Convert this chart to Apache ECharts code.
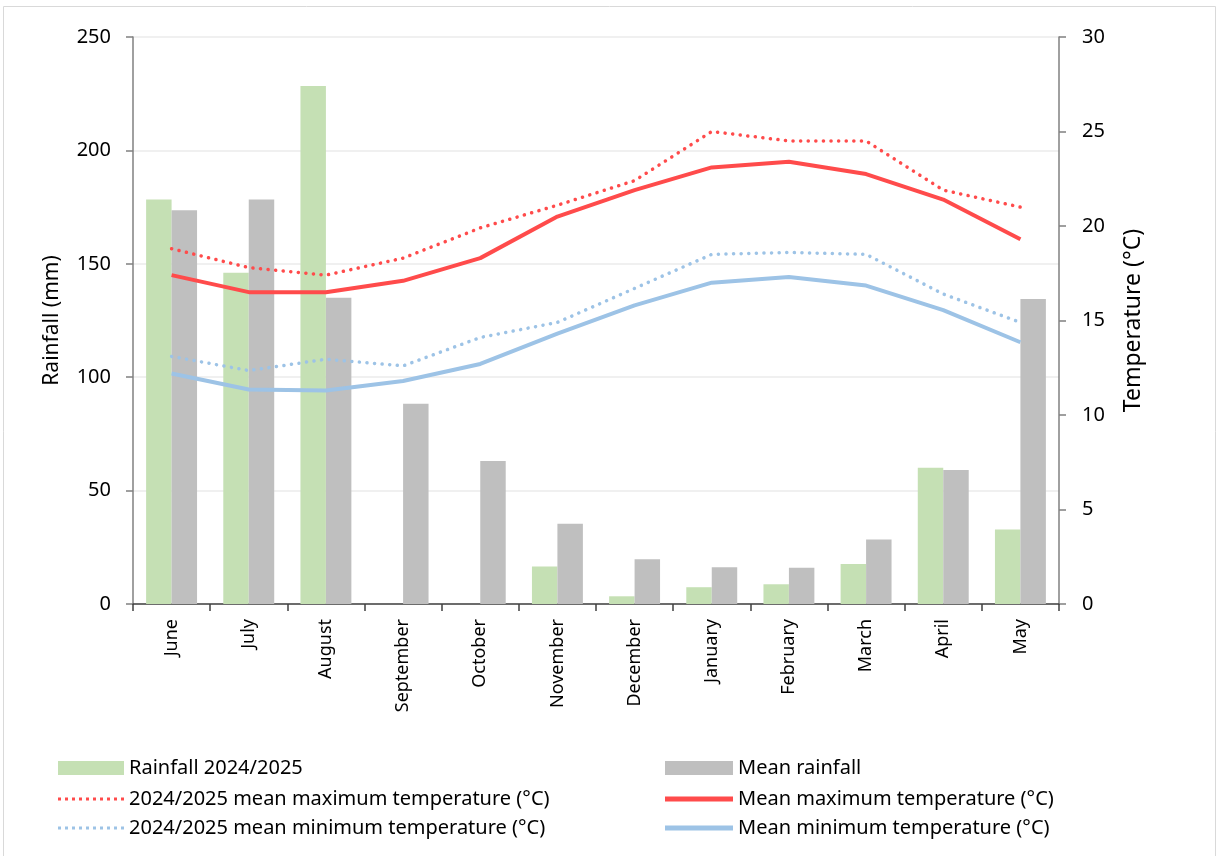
<!DOCTYPE html>
<html><head><meta charset="utf-8">
<script src="https://cdn.jsdelivr.net/npm/echarts@6/dist/echarts.min.js"></script>
<style>html,body{margin:0;padding:0;background:#fff}#c{width:1219px;height:856px}</style>
</head><body><div id="c"></div>
<script>
const months = ['June','July','August','September','October','November','December','January','February','March','April','May'];
const rainfall2425 = [178.4, 146, 228.4, null, null, 16.5, 3.4, 7.4, 8.7, 17.6, 60.1, 32.9];
const meanRainfall = [173.6, 178.3, 135, 88.3, 63, 35.4, 19.7, 16.2, 16.0, 28.4, 59.1, 134.5];
const max2425 = [18.8, 17.8, 17.4, 18.3, 19.9, 21.1, 22.4, 25.0, 24.5, 24.5, 21.9, 21.0];
const meanMax = [17.4, 16.5, 16.5, 17.1, 18.3, 20.5, 21.9, 23.1, 23.4, 22.75, 21.4, 19.3];
const min2425 = [13.1, 12.35, 12.95, 12.6, 14.1, 14.9, 16.7, 18.5, 18.6, 18.5, 16.4, 14.9];
const meanMin = [12.2, 11.35, 11.3, 11.8, 12.7, 14.3, 15.8, 17.0, 17.3, 16.85, 15.55, 13.85];
const leftTicks = {min: 0, max: 250, interval: 50};
const rightTicks = {min: 0, max: 30, interval: 5};

const font = 'Noto Sans';
const RED = '#ff4b4b', BLUE = '#9dc3e6', GREEN = '#c5e0b4', GRAY = '#bfbfbf';
let dots = 'path://';
for (let i = 0; i < 10; i++) dots += 'M' + (i * 7) + ',0h3v3h-3z';

const legText = {fontSize: 20, color: '#000', fontFamily: font};
function leg(name, x, cy, icon, w, h) {
  return {left: x, top: cy - 9, padding: 0, itemWidth: w, itemHeight: h, icon: icon, textStyle: legText,
          data: [name], selectedMode: false};
}
const chart = echarts.init(document.getElementById('c'));
chart.setOption({
  animation: false,
  textStyle: {fontFamily: font},
  graphic: [{type: 'rect', shape: {x: 3.5, y: 6.5, width: 1212, height: 860}, style: {fill: 'none', stroke: '#d9d9d9', lineWidth: 1}}],
  grid: {left: 133, right: 160, top: 37, bottom: 252},
  legend: [
    leg('Rainfall 2024/2025', 58, 767, 'rect', 66, 14),
    leg('2024/2025 mean maximum temperature (°C)', 58, 798, dots, 66, 3),
    leg('2024/2025 mean minimum temperature (°C)', 58, 827, dots, 66, 3),
    leg('Mean rainfall', 665, 767, 'rect', 68, 14),
    leg('Mean maximum temperature (°C)', 665, 798, 'rect', 68, 5),
    leg('Mean minimum temperature (°C)', 665, 827, 'rect', 68, 5)
  ],
  xAxis: {
    type: 'category', data: months, boundaryGap: true,
    axisLine: {lineStyle: {color: '#404040', width: 1.5}},
    axisTick: {show: true, length: 7, lineStyle: {color: '#404040', width: 1.5}},
    axisLabel: {rotate: 90, fontSize: 18, color: '#000', margin: 15, fontFamily: font}
  },
  yAxis: [
    {type: 'value', ...leftTicks, name: 'Rainfall (mm)', nameLocation: 'middle', nameGap: 70, nameRotate: 90,
     nameTextStyle: {fontSize: 21, color: '#000', fontFamily: font},
     axisLine: {show: true, lineStyle: {color: '#808080', width: 1.5}},
     axisTick: {show: true, length: 7, lineStyle: {color: '#808080', width: 1.5}},
     axisLabel: {fontSize: 20, color: '#000', margin: 22, fontFamily: font},
     splitLine: {lineStyle: {color: '#ebebeb', width: 1.5}}},
    {type: 'value', ...rightTicks, name: 'Temperature (°C)', nameLocation: 'middle', nameGap: 63, nameRotate: 90,
     nameTextStyle: {fontSize: 23, color: '#000', fontFamily: font},
     axisLine: {show: true, lineStyle: {color: '#808080', width: 1.5}},
     axisTick: {show: true, length: 7, lineStyle: {color: '#808080', width: 1.5}},
     axisLabel: {fontSize: 20, color: '#000', margin: 23, fontFamily: font},
     splitLine: {show: false}}
  ],
  series: [
    {name: 'Rainfall 2024/2025', type: 'bar', data: rainfall2425, itemStyle: {color: GREEN}, barGap: '0%', barCategoryGap: '34%'},
    {name: 'Mean rainfall', type: 'bar', data: meanRainfall, itemStyle: {color: GRAY}},
    {name: '2024/2025 mean maximum temperature (°C)', type: 'line', yAxisIndex: 1, data: max2425, showSymbol: false, symbol: 'none',
     lineStyle: {color: RED, width: 3.5, type: [0.1, 7.5], cap: 'round'}, itemStyle: {color: RED}, z: 5},
    {name: 'Mean maximum temperature (°C)', type: 'line', yAxisIndex: 1, data: meanMax, showSymbol: false, symbol: 'none',
     lineStyle: {color: RED, width: 4}, itemStyle: {color: RED}, z: 5},
    {name: '2024/2025 mean minimum temperature (°C)', type: 'line', yAxisIndex: 1, data: min2425, showSymbol: false, symbol: 'none',
     lineStyle: {color: BLUE, width: 3.5, type: [0.1, 7.5], cap: 'round'}, itemStyle: {color: BLUE}, z: 5},
    {name: 'Mean minimum temperature (°C)', type: 'line', yAxisIndex: 1, data: meanMin, showSymbol: false, symbol: 'none',
     lineStyle: {color: BLUE, width: 4}, itemStyle: {color: BLUE}, z: 5}
  ]
});
</script></body></html>
